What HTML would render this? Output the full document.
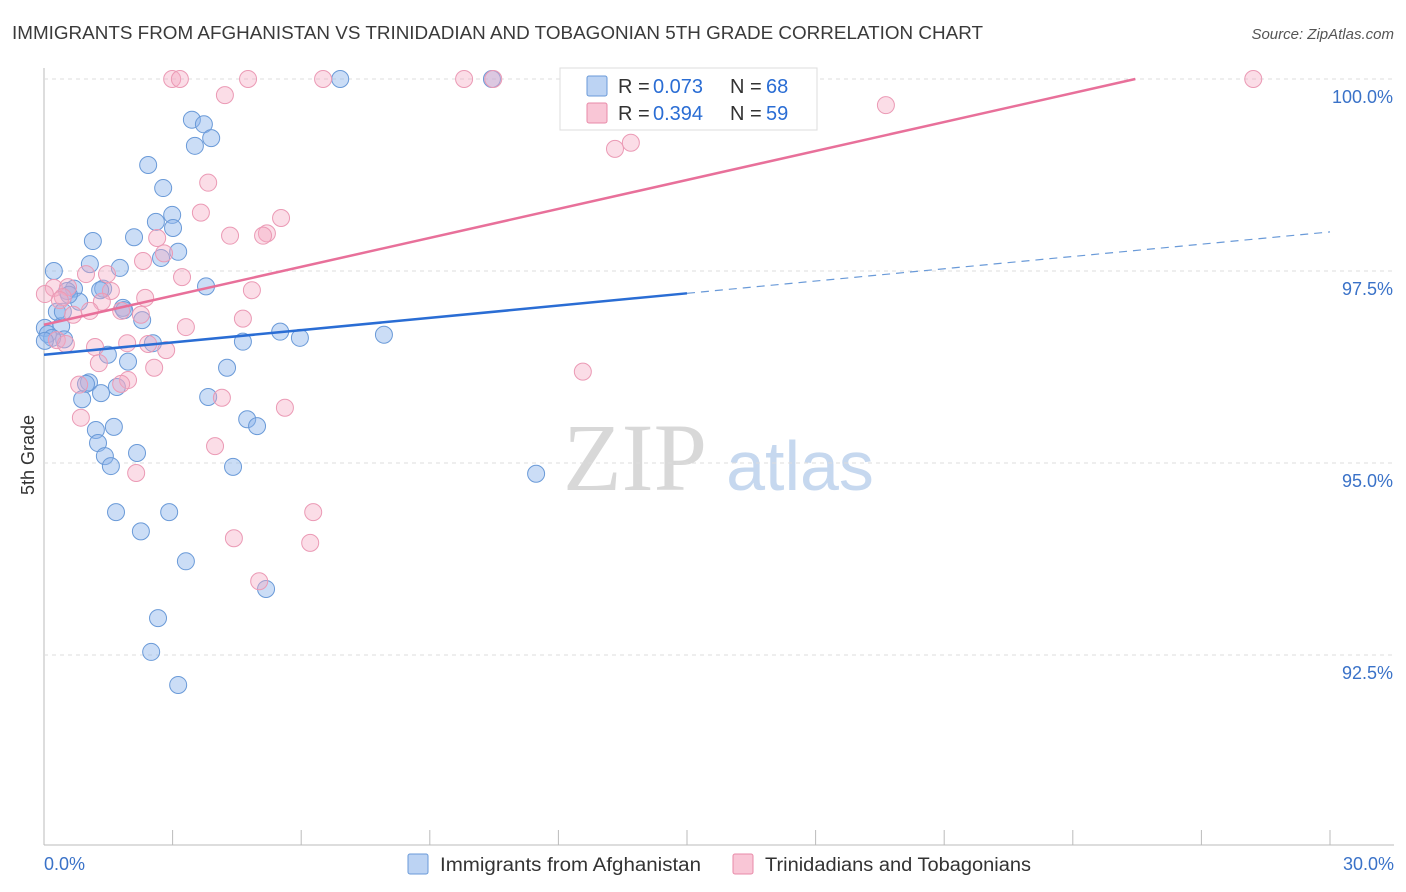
<!DOCTYPE html>
<html><head><meta charset="utf-8"><style>
body{margin:0;background:#fff;font-family:"Liberation Sans",sans-serif}
#wrap{position:relative;width:1406px;height:892px;overflow:hidden}
</style></head><body><div id="wrap">
<svg id="svg" width="1406" height="892" xmlns="http://www.w3.org/2000/svg">
<text x="12" y="39" font-size="18" fill="#3a3a3a" textLength="971" lengthAdjust="spacingAndGlyphs">IMMIGRANTS FROM AFGHANISTAN VS TRINIDADIAN AND TOBAGONIAN 5TH GRADE CORRELATION CHART</text>
<text x="1394" y="39" font-size="15" fill="#555" text-anchor="end" font-style="italic">Source: ZipAtlas.com</text>
<text x="34" y="455" font-size="18" fill="#333" text-anchor="middle" transform="rotate(-90 34 455)">5th Grade</text>
<text x="635" y="490" font-size="96" fill="#d8d8d8" text-anchor="middle" font-family="Liberation Serif,serif">ZIP</text>
<text x="800" y="490" font-size="70" fill="#c6d8ef" text-anchor="middle">atlas</text>
<g id="grid"></g><g id="pts"></g><g id="lines"></g>
<g>
<rect x="560" y="68" width="257" height="62" fill="#fff" stroke="#ddd"/>
<rect x="587" y="76" width="20" height="20" fill="#bcd3f3" stroke="#6a9ad8" rx="2"/>
<g font-size="20" fill="#333">
<text x="618" y="93">R =</text><text x="653" y="93" fill="#2a6dd4">0.073</text><text x="730" y="93">N =</text><text x="766" y="93" fill="#2a6dd4">68</text></g>
<rect x="587" y="103" width="20" height="20" fill="#f9c6d6" stroke="#e88aa8" rx="2"/>
<g font-size="20" fill="#333">
<text x="618" y="120">R =</text><text x="653" y="120" fill="#2a6dd4">0.394</text><text x="730" y="120">N =</text><text x="766" y="120" fill="#2a6dd4">59</text></g>
</g>
<g>
<rect x="408" y="854" width="20" height="20" fill="#bcd3f3" stroke="#6a9ad8" rx="2"/>
<text x="440" y="871" font-size="19" fill="#333" textLength="261" lengthAdjust="spacingAndGlyphs">Immigrants from Afghanistan</text>
<rect x="733" y="854" width="20" height="20" fill="#f9c6d6" stroke="#e88aa8" rx="2"/>
<text x="765" y="871" font-size="19" fill="#333" textLength="266" lengthAdjust="spacingAndGlyphs">Trinidadians and Tobagonians</text>
</g>
</svg></div>
<script>
const xTicks=[0,3,6,9,12,15,18,21,24,27,30];
const yTicks=[100,97.5,95,92.5];
const yTickLabels=["100.0%","97.5%","95.0%","92.5%"];
const blueX=[6.91,10.45,3.45,3.73,3.52,3.90,2.43,2.78,2.99,2.61,3.01,2.10,1.14,3.13,2.73,1.07,1.77,0.23,3.78,0.70,1.38,0.54,0.82,1.84,2.29,0.30,0.40,0.02,0.09,0.47,0.19,0.02,5.51,5.97,7.93,4.64,2.54,1.49,1.96,4.27,1.05,0.98,1.70,1.33,0.89,3.83,4.74,4.97,1.63,1.21,1.26,2.17,1.42,1.56,4.41,11.48,1.68,2.92,2.26,3.31,5.18,2.66,2.50,3.13,0.44,0.58,1.31,1.87];
const blueY=[100,100,99.47,99.41,99.13,99.23,98.88,98.58,98.23,98.14,98.06,97.94,97.89,97.75,97.67,97.59,97.54,97.50,97.30,97.27,97.27,97.24,97.10,97.02,96.86,96.97,96.78,96.76,96.68,96.61,96.63,96.59,96.71,96.63,96.67,96.58,96.56,96.41,96.32,96.24,96.05,96.03,95.99,95.91,95.83,95.86,95.57,95.48,95.47,95.43,95.26,95.13,95.09,94.96,94.95,94.86,94.36,94.36,94.11,93.72,93.36,92.98,92.54,92.11,96.97,97.19,97.25,96.99];
const pinkX=[2.99,3.17,4.76,6.51,9.80,10.48,28.21,4.22,19.64,13.69,13.32,3.83,3.66,5.53,4.34,5.20,5.11,2.64,2.80,2.31,0.98,1.47,3.22,4.85,0.23,0.56,0.02,0.44,1.56,2.36,1.35,1.80,1.07,2.26,3.31,4.64,0.30,0.51,1.19,1.94,2.43,2.85,1.28,2.57,1.96,1.80,0.82,12.57,4.15,5.62,0.86,3.99,2.15,6.28,4.43,6.21,5.02,0.37,0.68];
const pinkY=[100,100,100,100,100,100,100,99.79,99.66,99.17,99.09,98.65,98.26,98.19,97.96,97.99,97.96,97.93,97.73,97.63,97.46,97.46,97.42,97.25,97.28,97.29,97.20,97.16,97.24,97.15,97.10,96.98,96.98,96.93,96.77,96.88,96.60,96.55,96.51,96.56,96.55,96.47,96.30,96.24,96.08,96.03,96.02,96.19,95.85,95.72,95.59,95.22,94.87,94.36,94.02,93.96,93.46,97.12,96.93];
const blueTrend=[96.41,0.0533];
const pinkTrend=[96.80,0.1257];
const NS="http://www.w3.org/2000/svg";
const X=v=>44+v*(1286/30), Y=v=>79+(100-v)*76.8;
function mk(t,a,p){const e=document.createElementNS(NS,t);for(const k in a)e.setAttribute(k,a[k]);document.getElementById(p).appendChild(e);return e;}
let ax=mk('line',{x1:44,y1:68,x2:44,y2:845,stroke:'#bbb'},'grid');


let bx=mk('line',{x1:44,y1:845,x2:1394,y2:845,stroke:'#bbb'},'grid');


yTicks.forEach((v,i)=>{
 let g=mk('line',{x1:44,y1:Y(v),x2:1394,y2:Y(v),stroke:'#ddd','stroke-dasharray':'4,4'},'grid');
 
 
 let t=mk('text',{x:1393,y:Y(v)+24,'font-size':18,fill:'#3a72c8','text-anchor':'end'},'grid');t.textContent=yTickLabels[i];
 
 
});
xTicks.forEach(v=>{
 let t=mk('line',{x1:X(v),y1:830,x2:X(v),y2:845,stroke:'#bbb'},'grid');
 
 
});
[[0,"0.0%","start",44],[30,"30.0%","end",1394]].forEach(a=>{
 let t=mk('text',{x:a[3],y:870,'font-size':18,fill:'#3a72c8','text-anchor':a[2]},'grid');t.textContent=a[1];
 
 
});
blueX.forEach((x,i)=>{
 let c=mk('circle',{cx:X(x),cy:Y(blueY[i]),r:8.5,fill:'rgba(140,180,235,0.45)',stroke:'#6a9ad8','stroke-width':1},'pts');
 
 
});
pinkX.forEach((x,i)=>{
 let c=mk('circle',{cx:X(x),cy:Y(pinkY[i]),r:8.5,fill:'rgba(245,170,195,0.4)',stroke:'#eb9ab5','stroke-width':1},'pts');
 
 
});
const bt=x=>blueTrend[0]+blueTrend[1]*x, pt=x=>pinkTrend[0]+pinkTrend[1]*x;
let l1=mk('line',{x1:X(0),y1:Y(bt(0)),x2:X(15),y2:Y(bt(15)),stroke:'#2a6dd4','stroke-width':2.5},'lines');


let l2=mk('line',{x1:X(15),y1:Y(bt(15)),x2:X(30),y2:Y(bt(30)),stroke:'#6a9ad8','stroke-width':1.2,'stroke-dasharray':'8,6'},'lines');


const pEnd=(100-pinkTrend[0])/pinkTrend[1];
let l3=mk('line',{x1:X(0),y1:Y(pt(0)),x2:X(pEnd),y2:Y(100),stroke:'#e8709a','stroke-width':2.5},'lines');


</script></body></html>
